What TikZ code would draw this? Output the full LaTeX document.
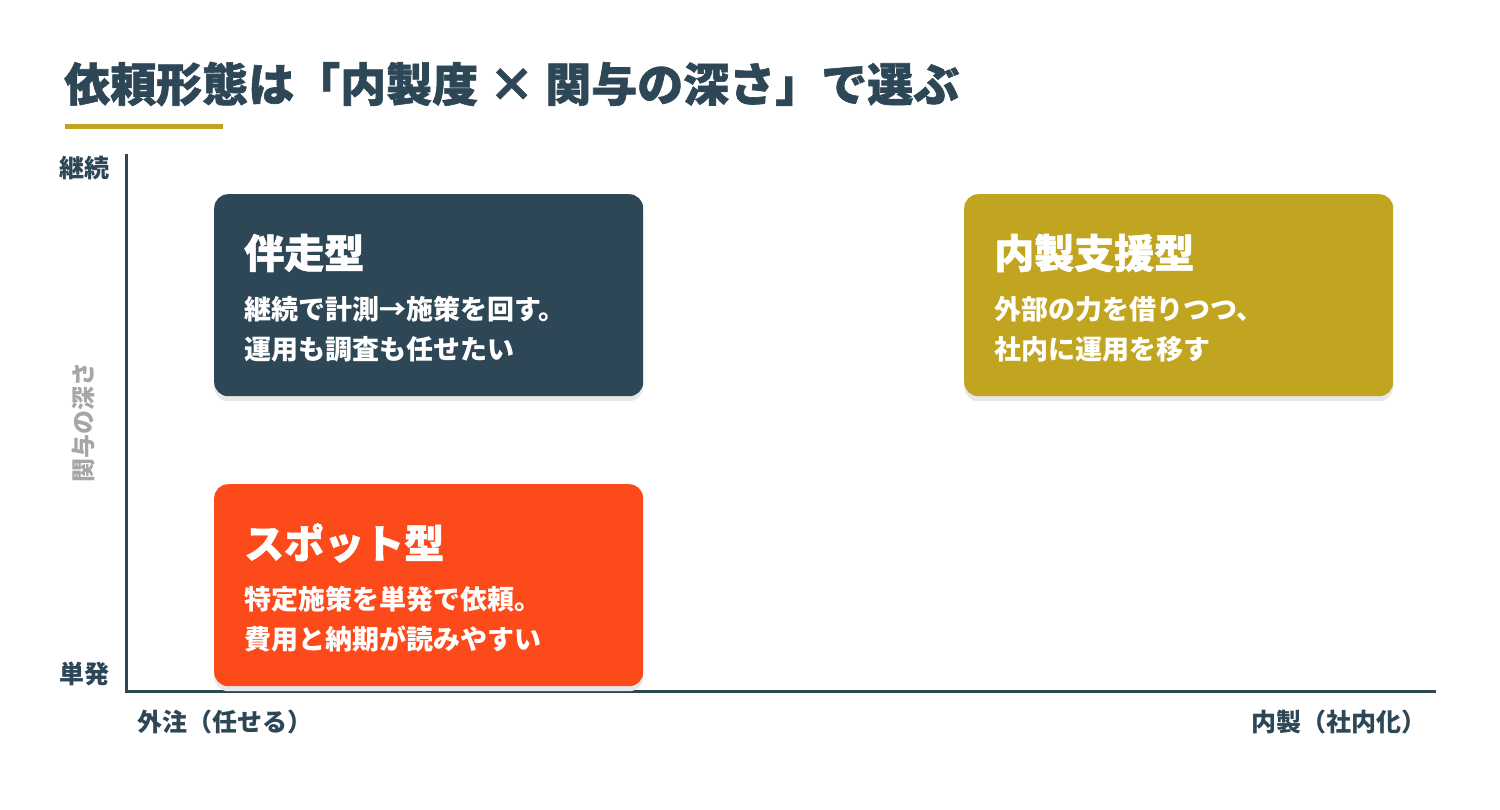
\documentclass[tikz,border=0pt]{standalone}
\usepackage{fontspec}
\newfontfamily\jp{Noto Sans CJK JP}
\newfontfamily\jpheavy{Noto Sans CJK JP}[BoldFeatures={FakeBold=1.3}]
\usetikzlibrary{shadows}
\definecolor{navy}{HTML}{2E4756}
\definecolor{gold}{HTML}{C1A520}
\definecolor{tomato}{HTML}{FC4A1A}
\definecolor{muted}{HTML}{A6A6A6}
\begin{document}
\begin{tikzpicture}[
  x=1pt, y=-1pt,
  every node/.style={inner sep=0pt, font=\jp\bfseries},
  card/.style={rounded corners=14pt, minimum width=429pt, minimum height=202pt,
    anchor=north west,
    drop shadow={shadow xshift=0pt, shadow yshift=-5pt, fill=black!9, opacity=1}},
  cardhead/.style={anchor=west, text=white, font=\jpheavy\bfseries\fontsize{40}{48}\selectfont},
  cardbody/.style={anchor=west, text=white, align=left,
    font=\jp\bfseries\fontsize{27}{40}\selectfont},
  axislabel/.style={text=navy, font=\jp\bfseries\fontsize{25}{30}\selectfont}
]
\useasboundingbox (0,0) rectangle (1500,810);

% title
\node[anchor=west, text=navy, font=\jpheavy\bfseries\fontsize{46}{54}\selectfont]
  (title) at (64,84) {依頼形態は「内製度 × 関与の深さ」で選ぶ};
\fill[gold] (65,124) rectangle (223,129);

% axes
\coordinate (top) at (126,154);
\coordinate (origin) at (126,691);
\coordinate (right) at (1436,691);
\draw[navy, line width=3pt] (top) -- (origin) -- (right);

\node[axislabel] (cont) at (84,168) {継続};
\node[axislabel] (once) at (84,674) {単発};
\node[axislabel, text=muted, rotate=90, font=\jp\bfseries\fontsize{24}{28}\selectfont]
  (depth) at (83,422) {関与の深さ};
\node[axislabel, anchor=west] (outsrc) at (137,722) {外注（任せる）};
\node[axislabel, anchor=east] (insrc) at (1427,722) {内製（社内化）};

% cards
\node[card, fill=navy] (pacer) at (214,194) {};
\node[cardhead] (pacerhead) at ([xshift=30pt,yshift=-59pt]pacer.north west) {伴走型};
\node[cardbody] (pacertext) at ([xshift=30pt,yshift=-135pt]pacer.north west)
  {継続で計測→施策を回す。\\運用も調査も任せたい};

\node[card, fill=gold] (support) at (964,194) {};
\node[cardhead] (supporthead) at ([xshift=30pt,yshift=-59pt]support.north west) {内製支援型};
\node[cardbody] (supporttext) at ([xshift=30pt,yshift=-135pt]support.north west)
  {外部の力を借りつつ、\\社内に運用を移す};

\node[card, fill=tomato] (spot) at (214,484) {};
\node[cardhead] (spothead) at ([xshift=30pt,yshift=-59pt]spot.north west) {スポット型};
\node[cardbody] (spottext) at ([xshift=30pt,yshift=-135pt]spot.north west)
  {特定施策を単発で依頼。\\費用と納期が読みやすい};
\end{tikzpicture}
\end{document}
